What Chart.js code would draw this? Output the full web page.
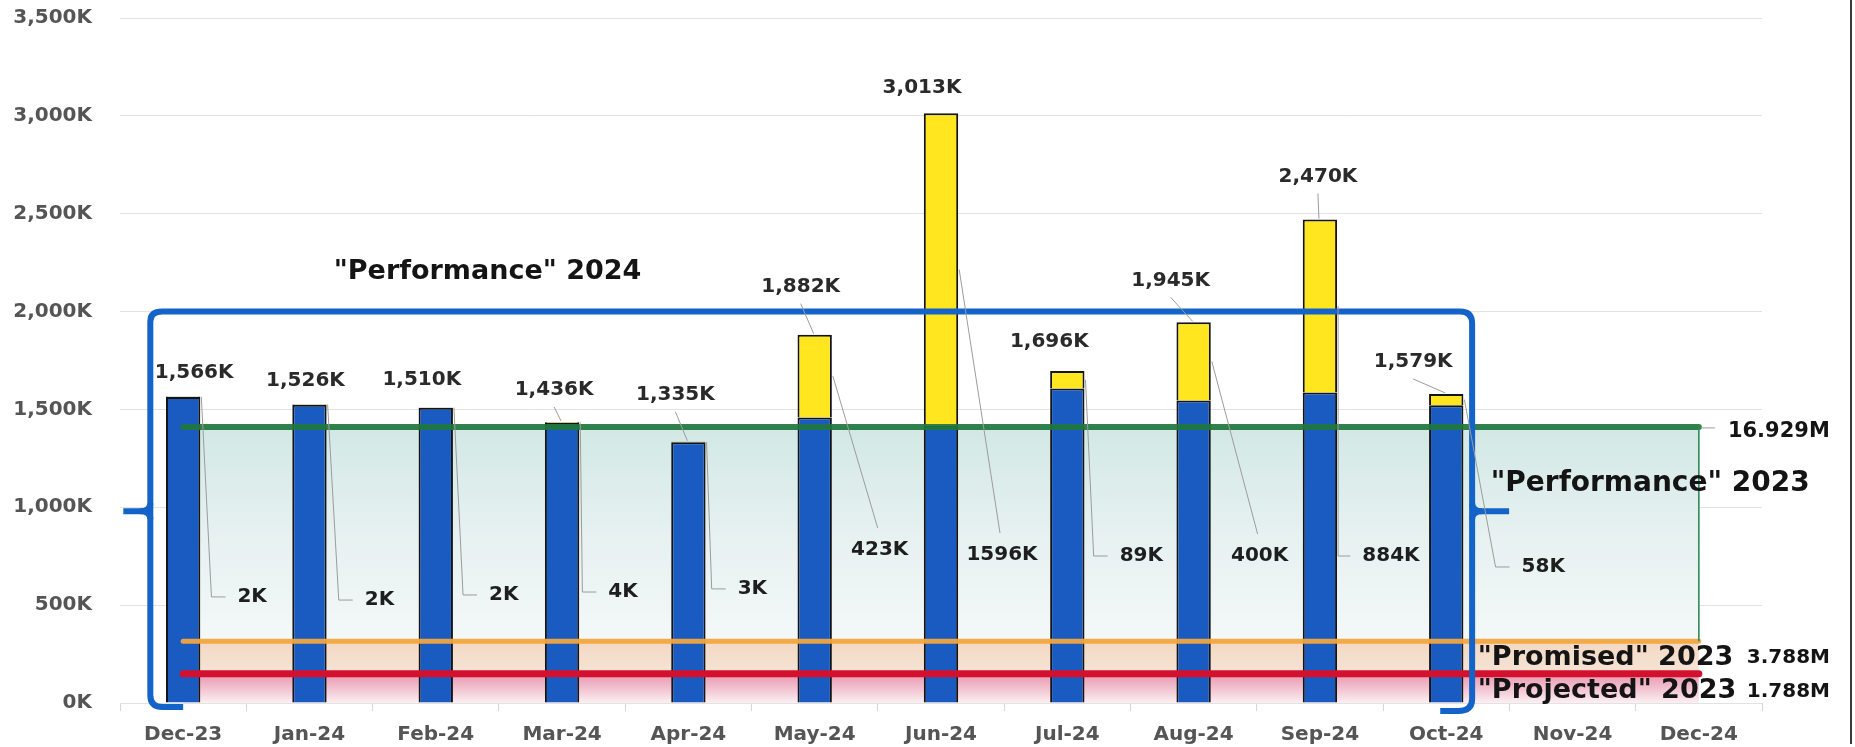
<!DOCTYPE html>
<html>
<head>
<meta charset="utf-8">
<script src="https://cdn.jsdelivr.net/npm/chart.js@4.4.1/dist/chart.umd.min.js"></script>
<style>
html,body{margin:0;padding:0;background:#fff;overflow:hidden}
#wrap{width:1855px;height:747px;position:relative}
</style>
</head>
<body>
<div id="wrap"><canvas id="c" width="1855" height="747"></canvas></div>
<script>
// ---------- DATA ----------
const months = ['Dec-23','Jan-24','Feb-24','Mar-24','Apr-24','May-24','Jun-24','Jul-24','Aug-24','Sep-24','Oct-24','Nov-24','Dec-24'];
const totals2024 = [1566,1526,1510,1436,1335,1882,3013,1696,1945,2470,1579,null,null];
const base2024 = [1564,1524,1508,1432,1332,1459,1417,1607,1545,1586,1521,null,null];
const extra2024 = [2,2,2,4,3,423,1596,89,400,884,58,null,null];
const performance2023Monthly = [1410.75,1410.75,1410.75,1410.75,1410.75,1410.75,1410.75,1410.75,1410.75,1410.75,1410.75,1410.75,1410.75];
const promised2023Monthly = [315.67,315.67,315.67,315.67,315.67,315.67,315.67,315.67,315.67,315.67,315.67,315.67,315.67];
const projected2023Monthly = [149,149,149,149,149,149,149,149,149,149,149,149,149];
const annualLabels = ['16.929M','3.788M','1.788M'];
const textLabels = ['"Performance" 2024','"Performance" 2023','"Promised" 2023','"Projected" 2023'];
const yMin = 0, yMax = 3500, yStep = 500;

// ---------- LAYOUT (positions only) ----------
// total label offset from bar top centre: [dx px, dy px, leader]
const totalLabelLayout = [[11,-24,0],[-4,-24,0],[-14,-28,0],[-8,-32,1],[-13,-47,1],[-14,-48,1],[-19,-26,0],[-18,-29,0],[-23,-42,1],[-2,-43,1],[-33,-32,1]];
// yellow-part label: [dx from bar centre px, level in K (y position), leader style e=elbow d=direct]
const extraLabelLayout = [[69,542,'e'],[70,526,'e'],[68,552,'e'],[61,567,'e'],[64,583,'e'],[65,782,'d'],[61,756,'d'],[74,751,'e'],[66,751,'d'],[71,751,'e'],[97,695,'e']];
// annotation text positions: [category index, value(K), align, font px]
const textLayout = [[2.41,2200,'center',27],[11.615,1118,'center',28],[10.25,232,'left',27],[10.25,63,'left',27]];
const annualLayout = [[12.23,1385,21],[12.38,232,20],[12.38,56,20]];

const FONT = '"DejaVu Sans", "Open Sans", sans-serif';

function tealFill(c){
  const ch=c.chart; if(!ch.chartArea) return 'rgba(0,0,0,0)';
  const y=ch.scales.y; const y0=y.getPixelForValue(performance2023Monthly[0]); const y1=y.getPixelForValue(promised2023Monthly[0]);
  const g=ch.ctx.createLinearGradient(0,y0,0,y1); g.addColorStop(0,'#d2e8e4'); g.addColorStop(0.5,'#e6f1f0'); g.addColorStop(1,'#f4f8f8'); return g;
}
function peachFill(c){
  const ch=c.chart; if(!ch.chartArea) return 'rgba(0,0,0,0)';
  const y=ch.scales.y; const y0=y.getPixelForValue(promised2023Monthly[0]); const y1=y.getPixelForValue(projected2023Monthly[0]);
  const g=ch.ctx.createLinearGradient(0,y0,0,y1); g.addColorStop(0,'#f3d8c2'); g.addColorStop(1,'#f5e4d6'); return g;
}
function pinkFill(c){
  const ch=c.chart; if(!ch.chartArea) return 'rgba(0,0,0,0)';
  const y=ch.scales.y; const y0=y.getPixelForValue(projected2023Monthly[0]); const y1=y.getPixelForValue(0);
  const g=ch.ctx.createLinearGradient(0,y0,0,y1); g.addColorStop(0,'#e996b0'); g.addColorStop(0.55,'#f3c6d4'); g.addColorStop(1,'#fbf0f3'); return g;
}

function seg(ctx,pts){ctx.beginPath();ctx.moveTo(pts[0][0],pts[0][1]);for(let i=1;i<pts.length;i++)ctx.lineTo(pts[i][0],pts[i][1]);ctx.stroke();}

const annotPlugin = {
  id:'annot',
  afterDatasetsDraw(chart){
    const {ctx, scales:{x,y}} = chart;
    const catW = x.getPixelForValue(1)-x.getPixelForValue(0);
    const extraMeta = chart.getDatasetMeta(4);
    ctx.save();
    const last = months.length-1;
    const xr = x.getPixelForValue(last);
    const yG = y.getPixelForValue(performance2023Monthly[last]);
    const yO = y.getPixelForValue(promised2023Monthly[last]);
    ctx.strokeStyle='#2e8a58'; ctx.lineWidth=1.6; seg(ctx,[[xr,yG],[xr,yO]]);
    ctx.strokeStyle='#9a9a9a'; ctx.lineWidth=1; seg(ctx,[[xr+2,yG+1],[xr+16,yG+1]]);

    // bracket "Performance 2024"
    const L = x.getPixelForValue(0) - 0.26*catW;
    const R = x.getPixelForValue(10) + 0.205*catW;
    const T = y.getPixelForValue(2000);
    const B = y.getPixelForValue(0);
    const M = (T + B + 8)/2;
    ctx.strokeStyle='#1463c8'; ctx.lineWidth=6; ctx.lineJoin='round'; ctx.lineCap='butt';
    ctx.beginPath();
    ctx.moveTo(x.getPixelForValue(0), B+4);
    ctx.lineTo(L+12, B+4);
    ctx.quadraticCurveTo(L, B+4, L, B-8);
    ctx.lineTo(L, T+10);
    ctx.quadraticCurveTo(L, T, L+12, T);
    ctx.lineTo(R-12, T);
    ctx.quadraticCurveTo(R, T, R, T+12);
    ctx.lineTo(R, B-4);
    ctx.quadraticCurveTo(R, B+8, R-14, B+8);
    ctx.lineTo(x.getPixelForValue(10)-6, B+8);
    ctx.stroke();
    ctx.beginPath(); ctx.moveTo(L, M-8); ctx.quadraticCurveTo(L, M, L-10, M); ctx.lineTo(L-27, M); ctx.stroke();
    ctx.beginPath(); ctx.moveTo(L, M+8); ctx.quadraticCurveTo(L, M, L-10, M); ctx.stroke();
    ctx.beginPath(); ctx.moveTo(R, M-8); ctx.quadraticCurveTo(R, M, R+10, M); ctx.lineTo(R+37, M); ctx.stroke();
    ctx.beginPath(); ctx.moveTo(R, M+8); ctx.quadraticCurveTo(R, M, R+10, M); ctx.stroke();

    // data labels
    ctx.font = 'bold 20px '+FONT;
    ctx.textBaseline='middle';
    for(let i=0;i<totals2024.length;i++){
      if(totals2024[i]==null) continue;
      const eb = extraMeta.data[i];
      const bx = eb.x, top = eb.y, half = eb.width/2;
      const exBottom = eb.base;
      const tl = totalLabelLayout[i];
      const lx = bx+tl[0], ly = top+tl[1];
      ctx.fillStyle='#2a2a2a'; ctx.textAlign='center';
      ctx.fillText(totals2024[i].toLocaleString('en-US')+'K', lx, ly);
      ctx.strokeStyle='#9c9c9c'; ctx.lineWidth=1;
      if(tl[2]) seg(ctx,[[lx,ly+17],[bx-1,top-1]]);
      const el = extraLabelLayout[i];
      const txt = String(extra2024[i])+'K';
      const ex = bx+el[0], ey = y.getPixelForValue(el[1]);
      ctx.fillStyle='#1e1e1e'; ctx.textAlign='center';
      ctx.fillText(txt, ex, ey);
      const w = ctx.measureText(txt).width;
      const sx = bx+half+1, sy = (top+exBottom)/2;
      if(el[2]==='e'){
        const left = ex - w/2;
        seg(ctx,[[sx,sy],[Math.max(sx,left-26),ey],[left-12,ey]]);
      } else {
        seg(ctx,[[sx,sy],[ex-2,ey-22]]);
      }
    }

    ctx.fillStyle='#141414';
    for(let k=0;k<textLabels.length;k++){
      const t=textLayout[k];
      ctx.font='bold '+t[3]+'px '+FONT; ctx.textAlign=t[2];
      ctx.fillText(textLabels[k], x.getPixelForValue(t[0]), y.getPixelForValue(t[1]));
    }
    for(let k=0;k<annualLabels.length;k++){
      const t=annualLayout[k];
      ctx.font='bold '+t[2]+'px '+FONT; ctx.textAlign='left';
      ctx.fillText(annualLabels[k], x.getPixelForValue(t[0]), y.getPixelForValue(t[1]));
    }
    ctx.strokeStyle='#3a3a3a'; ctx.lineWidth=2;
    seg(ctx,[[chart.width-4,0],[chart.width-4,chart.height-3]]);
    ctx.restore();
  }
};

const tickFont = {family:FONT, weight:'bold', size:20};
new Chart(document.getElementById('c').getContext('2d'), {
  type:'bar',
  data:{
    labels: months,
    datasets:[
      {type:'line', label:'"Performance" 2023', data:performance2023Monthly, borderColor:'rgba(32,118,62,0.92)', borderWidth:6, borderCapStyle:'round', pointRadius:0, fill:'+1', backgroundColor:tealFill, stack:'p23', order:0},
      {type:'line', label:'"Promised" 2023', data:promised2023Monthly, borderColor:'rgba(242,166,64,0.95)', borderWidth:5, borderCapStyle:'round', pointRadius:0, fill:'+1', backgroundColor:peachFill, stack:'pr23', order:0},
      {type:'line', label:'"Projected" 2023', data:projected2023Monthly, borderColor:'#d3112f', borderWidth:7, borderCapStyle:'round', pointRadius:0, fill:'origin', backgroundColor:pinkFill, stack:'pj23', order:0},
      {label:'Base 2024', data:base2024, backgroundColor:'#1a5bc2', borderColor:'#141414', borderWidth:2, stack:'bars', order:1, barPercentage:0.272, categoryPercentage:1},
      {label:'Extra 2024', data:extra2024, backgroundColor:'#ffe61e', borderColor:'#141414', borderWidth:2, stack:'bars', order:1, barPercentage:0.272, categoryPercentage:1}
    ]
  },
  options:{
    responsive:false, animation:false, devicePixelRatio:1,
    layout:{padding:{left:0,right:93,top:18,bottom:0}},
    plugins:{legend:{display:false}, tooltip:{enabled:false}, filler:{drawTime:'beforeDatasetsDraw'}},
    scales:{
      x:{
        grid:{display:true, drawOnChartArea:false, drawTicks:true, tickLength:8, color:'#d6d6d6', offset:true},
        border:{display:false},
        ticks:{padding:12, color:'#555555', font:tickFont, maxRotation:0, autoSkip:false},
        afterFit:s=>{s.height=44; s.paddingLeft=0; s.paddingRight=0;}
      },
      y:{
        stacked:true, min:yMin, max:yMax,
        ticks:{stepSize:yStep, padding:28, color:'#555555', font:tickFont, callback:v=>v.toLocaleString('en-US')+'K'},
        grid:{color:'#e2e2e2', drawTicks:false},
        border:{display:false},
        afterFit:s=>{s.width=120; s.paddingTop=12; s.paddingBottom=12;}
      }
    }
  },
  plugins:[annotPlugin]
});
</script>
</body>
</html>
